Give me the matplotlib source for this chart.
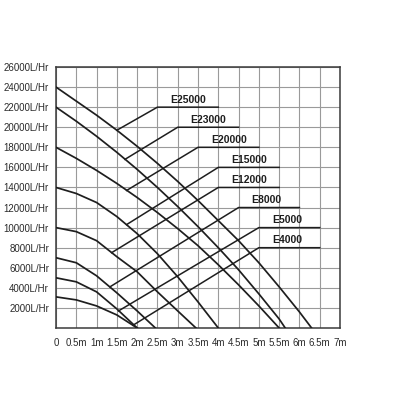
import matplotlib
matplotlib.use("Agg")
import matplotlib.pyplot as plt

plt.rcParams['font.family'] = ['Liberation Sans', 'DejaVu Sans']

# Pump curves: head (m) vs flow (L/Hr)
models = ["E25000", "E23000", "E20000", "E15000", "E12000", "E8000", "E5000", "E4000"]

head_25000 = [0, 0.5, 1, 1.5, 2, 2.5, 3, 3.5, 4, 4.5, 5, 5.5, 6, 6.3]
flow_25000 = [24000, 22600, 21200, 19700, 18100, 16400, 14600, 12700, 10700, 8700, 6500, 4100, 1600, 0]

head_23000 = [0, 0.5, 1, 1.5, 2, 2.5, 3, 3.5, 4, 4.5, 5, 5.5, 5.65]
flow_23000 = [22000, 20600, 19100, 17500, 15800, 14000, 12100, 10100, 8000, 5800, 3400, 900, 0]

head_20000 = [0, 0.5, 1, 1.5, 2, 2.5, 3, 3.5, 4, 4.5, 5, 5.5]
flow_20000 = [18000, 16900, 15700, 14400, 13000, 11500, 9900, 8200, 6300, 4300, 2200, 0]

head_15000 = [0, 0.5, 1, 1.5, 2, 2.5, 3, 3.5, 4]
flow_15000 = [14000, 13400, 12500, 11100, 9400, 7400, 5100, 2600, 0]

head_12000 = [0, 0.5, 1, 1.5, 2, 2.5, 3, 3.45]
flow_12000 = [10000, 9600, 8700, 7100, 5600, 3600, 1700, 0]

head_8000 = [0, 0.5, 1, 1.5, 2, 2.45]
flow_8000 = [7000, 6500, 5200, 3500, 1700, 0]

head_5000 = [0, 0.5, 1, 1.5, 2]
flow_5000 = [5000, 4600, 3600, 1900, 0]

head_4000 = [0, 0.5, 1, 1.5, 2]
flow_4000 = [3100, 2800, 2200, 1300, 0]

heads = [head_25000, head_23000, head_20000, head_15000, head_12000, head_8000, head_5000, head_4000]
flows = [flow_25000, flow_23000, flow_20000, flow_15000, flow_12000, flow_8000, flow_5000, flow_4000]

# label leaders: point on curve -> start of underline, underline end
anchor_x = [1.5, 1.7, 1.74, 1.74, 1.37, 1.33, 1.54, 1.9]
anchor_y = [19700, 16800, 13700, 10300, 7500, 4100, 1700, 280]
label_x0 = [2.5, 3.0, 3.5, 4.0, 4.0, 4.5, 5.0, 5.0]
label_x1 = [4.0, 4.5, 5.0, 5.5, 5.5, 6.0, 6.5, 6.5]
label_y = [22000, 20000, 18000, 16000, 14000, 12000, 10000, 8000]

x_ticks = [i * 0.5 for i in range(15)]
x_labels = ["0"] + [("%g" % t) + "m" for t in x_ticks[1:]]
y_ticks = list(range(2000, 26001, 2000))
y_labels = ["%dL/Hr" % t for t in y_ticks]

fig = plt.figure(figsize=(4, 4), dpi=100)
ax = fig.add_axes([0.14, 0.18, 0.71, 0.6525])

for h, f in zip(heads, flows):
    ax.plot(h, f, color="#1e1e1e", lw=1.25, zorder=3)

for i, name in enumerate(models):
    ax.plot([anchor_x[i], label_x0[i], label_x1[i]],
            [anchor_y[i], label_y[i], label_y[i]],
            color="#1e1e1e", lw=1.1, zorder=3)
    ax.text(label_x0[i] + 0.32, label_y[i] + 250, name, fontsize=7.5,
            fontweight="bold", color="#1e1e1e", ha="left", va="bottom", zorder=4)

ax.set_xlim(0, 7)
ax.set_ylim(0, 26000)
ax.set_xticks(x_ticks)
ax.set_xticklabels(x_labels)
ax.set_yticks(y_ticks)
ax.set_yticklabels(y_labels)
ax.tick_params(length=0, labelsize=7, colors="#2a2a2a")
ax.tick_params(axis="y", pad=5)
ax.tick_params(axis="x", pad=7)
ax.grid(True, color="#9a9a9a", lw=0.8)
ax.set_axisbelow(True)
for s in ax.spines.values():
    s.set_color("#3a3a3a")
    s.set_linewidth(1.1)

fig.savefig("out.png", dpi=100, facecolor="white")
